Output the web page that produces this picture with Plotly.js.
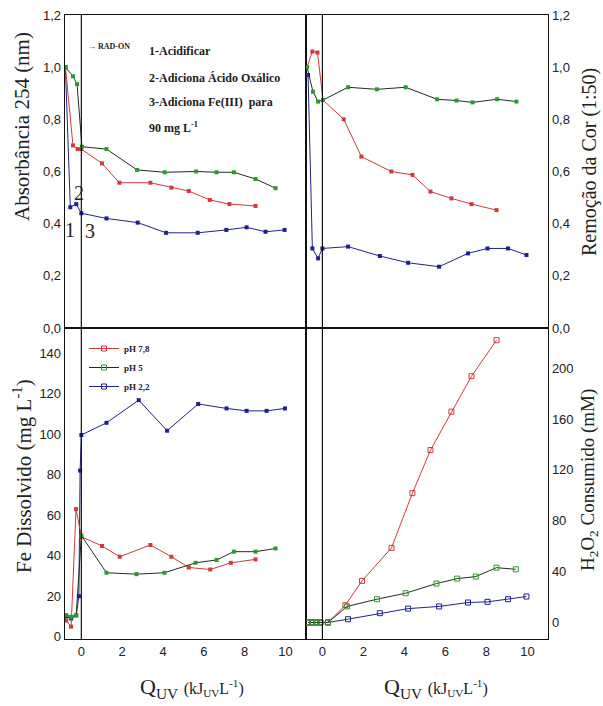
<!DOCTYPE html>
<html><head><meta charset="utf-8">
<script src="https://cdn.plot.ly/plotly-3.0.1.min.js"></script>
<style>html,body{margin:0;padding:0;background:#fff}#c{width:603px;height:706px}</style>
</head><body><div id="c"></div>
<script>
// ---- Absorbância 254 (top-left)
const absRedX = [-0.78,-0.41,-0.18,0,1.01,1.86,3.38,4.41,5.26,6.29,7.25,8.53];
const absRedY = [1.0,0.70,0.686,0.686,0.631,0.557,0.557,0.538,0.525,0.491,0.475,0.468];
const absGreenX = [-0.78,-0.41,-0.21,0.03,1.23,2.73,4.08,5.62,6.62,7.47,8.53,9.51];
const absGreenY = [1.0,0.965,0.935,0.695,0.686,0.606,0.597,0.6,0.597,0.597,0.571,0.536];
const absBlueX = [-0.78,-0.54,-0.25,0,1.23,2.76,4.15,5.7,7.1,8.09,9.02,9.95];
const absBlueY = [1.0,0.463,0.475,0.44,0.42,0.404,0.365,0.365,0.376,0.386,0.369,0.376];
// ---- Remoção da Cor (top-right)
const corRedX = [-0.75,-0.49,-0.24,0.03,1.04,1.9,3.36,4.39,5.27,6.29,7.27,8.49];
const corRedY = [1.0,1.06,1.056,0.874,0.8,0.657,0.6,0.587,0.523,0.497,0.475,0.452];
const corGreenX = [-0.75,-0.46,-0.21,0.03,1.25,2.66,4.06,5.59,6.54,7.32,8.52,9.46];
const corGreenY = [1.0,0.906,0.868,0.874,0.923,0.915,0.923,0.877,0.872,0.865,0.877,0.868];
const corBlueX = [-0.7,-0.49,-0.21,0,1.25,2.8,4.18,5.69,7.1,8.05,9.05,9.95];
const corBlueY = [0.97,0.305,0.267,0.305,0.312,0.276,0.25,0.235,0.286,0.305,0.305,0.28];
// ---- Fe Dissolvido (bottom-left)
const feRedX = [-0.74,-0.5,-0.26,0,1.01,1.88,3.38,4.41,5.26,6.31,7.32,8.53];
const feRedY = [8,5,63,49.4,44.8,39.5,45.3,39.5,34.2,33.2,36.5,38.2];
const feGreenX = [-0.74,-0.5,-0.25,0,1.23,2.7,4.07,5.59,6.62,7.47,8.53,9.51];
const feGreenY = [10.7,9.9,10.7,50,31.6,30.9,31.6,36.5,37.9,42,42,43.6];
const feBlueX = [-0.74,-0.5,-0.25,-0.12,-0.06,0,1.23,2.81,4.2,5.72,7.11,8.09,9.07,9.97];
const feBlueY = [10,9,10.5,20,82,99.6,105.6,116.8,101.7,114.9,112.7,111.5,111.5,112.7];
// ---- H2O2 Consumido (bottom-right)
const h2o2RedX = [-0.7,-0.5,-0.29,-0.1,0.27,1.12,1.93,3.37,4.39,5.27,6.29,7.27,8.49];
const h2o2RedY = [0,0,0,0,0,13.6,32.7,58.7,101.7,135.6,165.8,193.7,222];
const h2o2GreenX = [-0.7,-0.5,-0.29,-0.1,0.27,1.2,2.66,4.06,5.56,6.57,7.48,8.49,9.43];
const h2o2GreenY = [0,0,0,0,0,12.6,18.3,23,30.6,34.5,36.1,43.1,41.8];
const h2o2BlueX = [-0.7,-0.5,-0.29,-0.1,0.27,1.25,2.8,4.18,5.69,7.1,8.05,9.05,9.95];
const h2o2BlueY = [0,0,0,0,0,2.6,7.3,10.9,12.6,15.7,16.2,18.3,20.4];

const seriesNames = ['pH 7,8','pH 5','pH 2,2'];
const xTicks = [0,2,4,6,8,10];
const absTicks = [0,0.2,0.4,0.6,0.8,1.0,1.2];
const feTicks = [0,20,40,60,80,100,120,140];
const h2o2Ticks = [0,40,80,120,160,200];

const RED='#d03a3a', GREEN='#2b9a2b', GREENLINE='#1f2f1f', BLUE='#1e1e96', BLUELINE='#22228a';

function tr(x,y,xa,ya,lineCol,mkCol,sym,name,legend,rank){
  const open = sym==='square-open';
  return {x:x,y:y,xaxis:xa,yaxis:ya,type:'scatter',mode:'lines+markers',
    name:name,showlegend:legend,legendrank:rank,
    line:{color:lineCol,width:1},
    marker:{symbol:sym,size:open?5:4,color:mkCol,line:{color:mkCol,width:open?1:0}},
    hoverinfo:'skip'};
}
const data=[
  tr(absBlueX,absBlueY,'x','y',BLUELINE,BLUE,'square','',false),
  tr(absRedX,absRedY,'x','y',RED,RED,'square','',false),
  tr(absGreenX,absGreenY,'x','y',GREENLINE,GREEN,'square','',false),
  tr(corBlueX,corBlueY,'x2','y2',BLUELINE,BLUE,'square','',false),
  tr(corRedX,corRedY,'x2','y2',RED,RED,'square','',false),
  tr(corGreenX,corGreenY,'x2','y2',GREENLINE,GREEN,'square','',false),
  tr(feBlueX,feBlueY,'x3','y3',BLUELINE,BLUE,'square','',false),
  tr(feRedX,feRedY,'x3','y3',RED,RED,'square','',false),
  tr(feGreenX,feGreenY,'x3','y3',GREENLINE,GREEN,'square','',false),
  tr(h2o2BlueX,h2o2BlueY,'x4','y4',BLUELINE,BLUE,'square-open',seriesNames[2],true,3),
  tr(h2o2RedX,h2o2RedY,'x4','y4',RED,RED,'square-open',seriesNames[0],true,1),
  tr(h2o2GreenX,h2o2GreenY,'x4','y4',GREENLINE,GREEN,'square-open',seriesNames[1],true,2)
];

const W=603,H=706;
const px=v=>v/W, py=v=>1-v/H;
const xL=[px(65),px(306)], xR=[px(306),px(548)];
const yT=[py(328),py(15)], yB=[py(639),py(328)];
const tickFont={family:'Liberation Sans Narrow, Liberation Sans, Arial Narrow, sans-serif',size:13,color:'#222'};
const base={showline:true,linecolor:'#111',linewidth:1.3,mirror:true,showgrid:false,zeroline:false,ticks:'',tickfont:tickFont};
const xr=[-0.8,11.0];

const layout={
  width:W,height:H,margin:{l:0,r:0,t:0,b:0},paper_bgcolor:'#fff',plot_bgcolor:'#fff',
  separators:',.',
  showlegend:true,
  legend:{x:px(84),y:py(334),xanchor:'left',yanchor:'top',bgcolor:'rgba(0,0,0,0)',
    font:{family:'Liberation Serif, serif',size:9,color:'#222',weight:'bold'},tracegroupgap:0,itemwidth:30},
  xaxis:Object.assign({},base,{domain:xL,anchor:'y',range:xr,showticklabels:false}),
  yaxis:Object.assign({},base,{domain:yT,anchor:'x',range:[0,1.2],tickvals:absTicks,tickformat:'.1f'}),
  xaxis2:Object.assign({},base,{domain:xR,anchor:'y2',range:xr,showticklabels:false}),
  yaxis2:Object.assign({},base,{domain:yT,anchor:'x2',side:'right',range:[0,1.2],tickvals:absTicks,tickformat:'.1f'}),
  xaxis3:Object.assign({},base,{domain:xL,anchor:'y3',range:xr,tickvals:xTicks}),
  yaxis3:Object.assign({},base,{domain:yB,anchor:'x3',range:[-1.1,152.4],tickvals:feTicks}),
  xaxis4:Object.assign({},base,{domain:xR,anchor:'y4',range:xr,tickvals:xTicks}),
  yaxis4:Object.assign({},base,{domain:yB,anchor:'x4',side:'right',range:[-13,231.6],tickvals:h2o2Ticks}),
  shapes:[
    {type:'line',xref:'x',yref:'y domain',x0:0,x1:0,y0:0,y1:1,line:{color:'#111',width:1.2}},
    {type:'line',xref:'x2',yref:'y2 domain',x0:0,x1:0,y0:0,y1:1,line:{color:'#111',width:1.2}},
    {type:'line',xref:'x3',yref:'y3 domain',x0:0,x1:0,y0:0,y1:1,line:{color:'#111',width:1.2}},
    {type:'line',xref:'x4',yref:'y4 domain',x0:0,x1:0,y0:0,y1:1,line:{color:'#111',width:1.2}}
  ],
  annotations:[]
};
const serif='Liberation Serif, Times New Roman, serif';
const ann=layout.annotations;
function pa(text,x,y,size,angle,opts){
  ann.push(Object.assign({text:text,xref:'paper',yref:'paper',x:px(x),y:py(y),showarrow:false,
    textangle:angle||0,xanchor:'center',yanchor:'middle',font:{family:serif,size:size,color:'#222'}},opts||{}));
}
pa('Absorbância 254 (nm)',22,127,21,-90);
pa('Fe Dissolvido (mg L<sup>-1</sup>)',22,476,21,-90);
pa('Remoção da Cor (1:50)',590,162,20,-90);
pa('H<sub>2</sub>O<sub>2</sub> Consumido (mM)',589,480,19,-90);
pa('Q<sub>UV</sub> <span style="font-size:16px">(kJ<sub>UV</sub>L<sup>-1</sup>)</span>',192,688,22,0);
pa('Q<sub>UV</sub> <span style="font-size:16px">(kJ<sub>UV</sub>L<sup>-1</sup>)</span>',436,688,22,0);
const bold={family:serif,size:12,color:'#222',weight:'bold'};
pa('1-Acidificar',147,51,12,0,{xanchor:'left',font:bold});
pa('2-Adiciona Ácido Oxálico',147,78,12,0,{xanchor:'left',font:bold});
pa('3-Adiciona Fe(III)  para',147,102,12,0,{xanchor:'left',font:bold});
pa('90 mg L<sup>-1</sup>',147,127,12,0,{xanchor:'left',font:bold});
pa('→ RAD-ON',86,46,8,0,{xanchor:'left',font:{family:serif,size:8,color:'#222',weight:'bold'}});
pa('1',70,230,20,0);
pa('2',79,193,20,0);
pa('3',90,231,20,0);

Plotly.newPlot('c',data,layout,{staticPlot:true,displayModeBar:false});
</script></body></html>
